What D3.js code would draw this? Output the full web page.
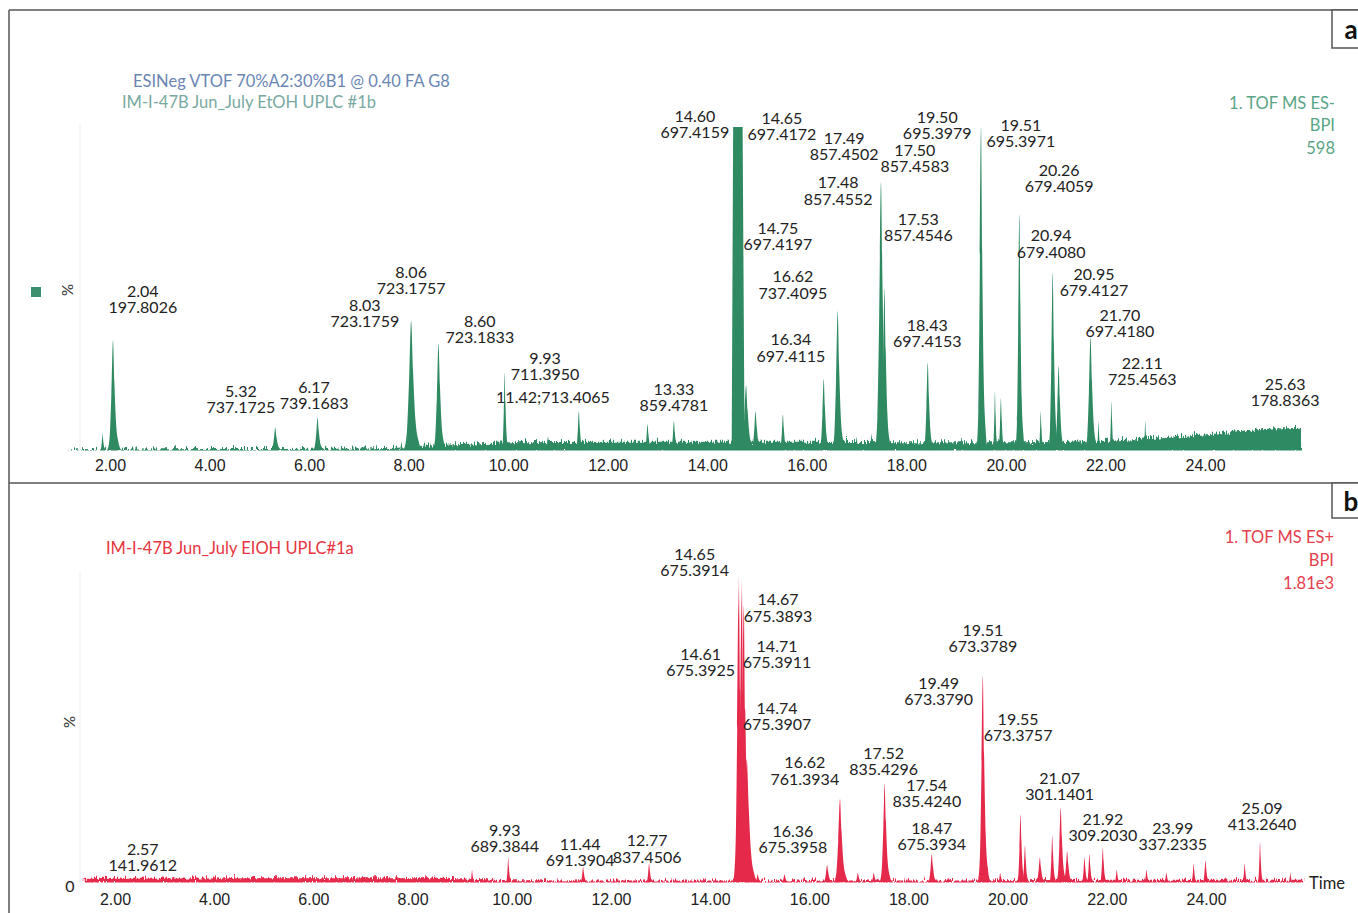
<!DOCTYPE html>
<html lang="en">
<head>
  <meta charset="UTF-8">
  <title>BPI chromatograms</title>
  <script src="https://d3js.org/d3.v7.min.js"></script>
  <style>
    body { margin: 0; background: #fff; }
    svg { display: block; font-family: Lato, "DejaVu Sans", sans-serif; }
    .peak-label { font-size: 16px; fill: #222; text-anchor: middle; }
    .tick text { font-size: 16px; fill: #222; }
  </style>
</head>
<body>
  <svg width="1358" height="913"></svg>

  <script>
    // retention time ticks (min)
    const timeTicks = [2, 4, 6, 8, 10, 12, 14, 16, 18, 20, 22, 24];

    // panel a: ES- BPI, baseline level [time, %]
    const baseA = [[1.1, 0.8], [2, 1], [4, 1.2], [6, 1.3], [8, 1.8], [9, 2.5], [10, 3], [12, 3.2], [14, 3.2],
      [16, 3.2], [18, 3], [20, 3], [22, 3.5], [23, 4.5], [24, 5.5], [25, 7], [25.87, 7.5]];
    // saturated (flat topped) peak [start, end, level %]
    const plateauA = [[14.52, 14.71, 100]];
    // peaks [time, height %, half width at base (min)]
    const peaksA = [[1.85, 5, 0.05], [2.06, 34, 0.11], [5.32, 7, 0.09], [6.17, 10, 0.09], [8.05, 40, 0.15],
      [8.6, 33, 0.11], [9.93, 24, 0.06], [10.8, 4, 0.07], [11.42, 12, 0.07], [12.8, 8, 0.07],
      [13.33, 9, 0.07], [14.78, 20, 0.12], [14.97, 12, 0.09], [15.52, 11, 0.07], [16.34, 22, 0.09],
      [16.62, 43, 0.11], [17.0, 4, 0.05], [17.3, 5, 0.05], [17.49, 83, 0.12], [17.56, 50, 0.1],
      [18.43, 27, 0.09], [19.5, 100, 0.09], [19.78, 18, 0.05], [19.9, 16, 0.06], [20.27, 73, 0.08],
      [20.7, 12, 0.05], [20.94, 55, 0.09], [21.06, 26, 0.09], [21.7, 35, 0.11], [21.86, 9, 0.04],
      [22.12, 15, 0.05], [22.8, 9, 0.04]];
    // annotations [rt, m/z, label time, label level %]
    const labelsA = [["2.04", "197.8026", 2.66, 49.2], ["5.32", "737.1725", 4.63, 18.3],
      ["6.17", "739.1683", 6.1, 19.5], ["8.03", "723.1759", 7.12, 44.9], ["8.06", "723.1757", 8.05, 55.1],
      ["8.60", "723.1833", 9.43, 39.9], ["9.93", "711.3950", 10.74, 28.5], ["11.42;713.4065", "", 10.9, 16.4],
      ["13.33", "859.4781", 13.33, 18.9], ["14.60", "697.4159", 13.75, 103.4], ["14.65", "697.4172", 15.5, 102.8],
      ["17.49", "857.4502", 16.75, 96.6], ["17.50", "857.4583", 18.17, 92.9], ["19.50", "695.3979", 18.62, 103.1],
      ["19.51", "695.3971", 20.3, 100.6], ["17.48", "857.4552", 16.63, 82.7], ["20.26", "679.4059", 21.07, 86.7],
      ["17.53", "857.4546", 18.24, 71.5], ["14.75", "697.4197", 15.42, 68.7], ["20.94", "679.4080", 20.91, 66.3],
      ["16.62", "737.4095", 15.72, 53.6], ["20.95", "679.4127", 21.77, 54.5], ["21.70", "697.4180", 22.29, 41.8],
      ["16.34", "697.4115", 15.68, 34.1], ["18.43", "697.4153", 18.42, 38.7], ["22.11", "725.4563", 22.74, 26.9],
      ["25.63", "178.8363", 25.61, 20.4]];

    // panel b: ES+ BPI
    const baseB = [[1.35, 2], [2, 2], [5, 2.2], [8, 2.2], [9, 1.8], [10, 1.2], [14, 1.1], [18, 1.1],
      [22, 1.4], [25.9, 1.4]];
    const plateauB = [];
    const peaksB = [[9.2, 4, 0.04], [9.93, 8, 0.05], [11.44, 5, 0.06], [12.77, 6, 0.06], [14.58, 100, 0.11],
      [14.64, 98, 0.11], [14.68, 90, 0.12], [14.74, 40, 0.15], [14.96, 2.5, 0.06], [15.5, 2.5, 0.06],
      [16.36, 5.5, 0.08], [16.62, 27, 0.12], [16.98, 3, 0.06], [17.3, 3, 0.06], [17.52, 32, 0.1],
      [18.0, 1.5, 0.05], [18.47, 9, 0.08], [18.8, 1.5, 0.06], [19.5, 67, 0.1], [19.85, 3, 0.05],
      [20.26, 22, 0.07], [20.35, 12, 0.06], [20.65, 8, 0.08], [20.9, 15, 0.06], [21.07, 24, 0.09],
      [21.2, 10, 0.08], [21.55, 8, 0.06], [21.65, 9, 0.06], [21.92, 11, 0.06], [22.2, 4, 0.05],
      [22.8, 4, 0.05], [23.2, 3, 0.05], [23.75, 6, 0.05], [23.99, 7, 0.06], [24.78, 6, 0.05],
      [25.09, 13, 0.05], [25.7, 3, 0.04]];
    const labelsB = [["2.57", "141.9612", 2.56, 10.7], ["9.93", "689.3844", 9.86, 16.9],
      ["11.44", "691.3904", 11.38, 12.4], ["12.77", "837.4506", 12.73, 13.4], ["14.65", "675.3914", 13.69, 106.8],
      ["14.67", "675.3893", 15.37, 91.9], ["14.61", "675.3925", 13.81, 74.3], ["14.71", "675.3911", 15.35, 76.9],
      ["14.74", "675.3907", 15.35, 56.7], ["16.62", "761.3934", 15.91, 38.8], ["17.52", "835.4296", 17.5, 42.0],
      ["17.54", "835.4240", 18.37, 31.6], ["16.36", "675.3958", 15.67, 16.6], ["18.47", "675.3934", 18.47, 17.6],
      ["19.51", "673.3789", 19.5, 82.1], ["19.49", "673.3790", 18.61, 64.8], ["19.55", "673.3757", 20.21, 53.1],
      ["21.07", "301.1401", 21.05, 33.9], ["21.92", "309.2030", 21.92, 20.5], ["23.99", "337.2335", 23.33, 17.6],
      ["25.09", "413.2640", 25.13, 24.1]];

    const svg = d3.select("svg");
    const defs = svg.append("defs");

    // grassy baseline noise
    const f = defs.append("filter").attr("id", "grass")
      .attr("x", "-1%").attr("y", "-40%").attr("width", "102%").attr("height", "180%");
    f.append("feTurbulence").attr("type", "turbulence").attr("baseFrequency", "1.1 0.04")
      .attr("numOctaves", 2).attr("seed", 4).attr("result", "n");
    f.append("feDisplacementMap").attr("in", "SourceGraphic").attr("in2", "n")
      .attr("scale", 9).attr("xChannelSelector", "R").attr("yChannelSelector", "G");

    // peak outline template: [offset in half widths, fraction of height]
    const shape = [[-1, 0], [-0.6, 0.12], [-0.3, 0.5], [0, 1], [0.25, 0.62], [0.6, 0.22], [1, 0.07], [1.5, 0]];

    function panel(cfg) {
      const x = d3.scaleLinear().domain([2, 24]).range(cfg.xr);
      const y = d3.scaleLinear().domain([0, 100]).range(cfg.yr);
      const g = svg.append("g");

      defs.append("clipPath").attr("id", cfg.id + "clip")
        .append("rect").attr("x", 0).attr("y", 0).attr("width", 1358).attr("height", cfg.yr[0] + 0.5);

      // faint y axis
      g.append("line").attr("x1", 80).attr("x2", 80).attr("y1", cfg.yr[1] - 3).attr("y2", cfg.yr[0])
        .attr("stroke", "#eeeeee");

      const area = d3.area().x(d => x(d[0])).y0(y(0)).y1(d => y(d[1])).curve(d3.curveMonotoneX);
      const trace = g.append("g").attr("clip-path", `url(#${cfg.id}clip)`).attr("fill", cfg.fill);

      trace.append("path").datum(cfg.base).attr("d", area).attr("filter", "url(#grass)");
      trace.selectAll("path.plateau").data(cfg.plateau).join("path").attr("class", "plateau")
        .attr("d", p => d3.area().x(d => x(d[0])).y0(y(0)).y1(d => y(d[1]))(
          [[p[0] - 0.03, 0], [p[0], p[2]], [p[1], p[2]], [p[1] + 0.04, 0]]));
      trace.selectAll("path.peak").data(cfg.peaks).join("path").attr("class", "peak")
        .attr("d", p => area(shape.map(([o, k]) => [p[0] + o * p[2], k * p[1]])));

      const ax = g.append("g").attr("transform", `translate(0,${cfg.tickY})`)
        .call(d3.axisBottom(x).tickValues(timeTicks).tickFormat(d3.format(".2f")).tickSize(0).tickPadding(0));
      ax.select(".domain").remove();
      ax.selectAll("text").attr("dy", "0.35em").attr("font-family", null).attr("font-size", null);

      const lab = g.selectAll("text.peak-label").data(cfg.labels).join("text").attr("class", "peak-label")
        .attr("transform", d => `translate(${x(d[2])},${y(d[3])})`);
      lab.append("tspan").attr("x", 0).attr("dy", "0.35em").text(d => d[0]);
      lab.append("tspan").attr("x", 0).attr("dy", 16.5).text(d => d[1]);

      g.append("text").attr("transform", `translate(${cfg.pctX},${cfg.pctY}) rotate(-90)`)
        .attr("text-anchor", "middle").attr("dy", "0.35em").attr("font-size", 15).attr("fill", "#333").text("%");
      return { x, y, g };
    }

    panel({ id: "a", xr: [110, 1205], yr: [450, 127], tickY: 465, pctX: 68, pctY: 290,
      fill: "#2f8a62", base: baseA, plateau: plateauA, peaks: peaksA, labels: labelsA });

    defs.append("linearGradient").attr("id", "redfade").attr("gradientUnits", "userSpaceOnUse")
      .attr("x1", 0).attr("x2", 0).attr("y1", 575).attr("y2", 640)
      .selectAll("stop").data([[0, "#fbd6dd"], [0.7, "#e5294b"]]).join("stop")
      .attr("offset", d => d[0]).attr("stop-color", d => d[1]);

    panel({ id: "b", xr: [115, 1206], yr: [882, 575], tickY: 899, pctX: 70, pctY: 722,
      fill: "url(#redfade)", base: baseB, plateau: plateauB, peaks: peaksB, labels: labelsB });

    // frame
    const frame = svg.append("g").attr("stroke", "#555").attr("stroke-width", 1.5).attr("fill", "none");
    frame.append("line").attr("x1", 9).attr("x2", 1358).attr("y1", 10).attr("y2", 10);
    frame.append("line").attr("x1", 9).attr("x2", 9).attr("y1", 10).attr("y2", 913);
    frame.append("line").attr("x1", 9).attr("x2", 1358).attr("y1", 483).attr("y2", 483);
    frame.append("rect").attr("x", 1332).attr("y", 10).attr("width", 40).attr("height", 38).attr("fill", "#fff");
    frame.append("rect").attr("x", 1332).attr("y", 483).attr("width", 40).attr("height", 35).attr("fill", "#fff");
    svg.append("text").attr("x", 1351).attr("y", 39).attr("text-anchor", "middle")
      .attr("font-size", 26).attr("font-weight", "bold").attr("fill", "#111").text("a");
    svg.append("text").attr("x", 1351).attr("y", 511).attr("text-anchor", "middle")
      .attr("font-size", 26).attr("font-weight", "bold").attr("fill", "#111").text("b");

    // headers
    svg.append("text").attr("x", 133).attr("y", 81).attr("dy", "0.35em").attr("font-size", 16.5)
      .attr("fill", "#6a86b3").text("ESINeg VTOF 70%A2:30%B1 @ 0.40 FA G8");
    svg.append("text").attr("x", 122).attr("y", 102).attr("dy", "0.35em").attr("font-size", 16.5)
      .attr("fill", "#79a9a2").text("IM-I-47B Jun_July EtOH UPLC #1b");
    svg.append("g").attr("fill", "#5aa586").attr("font-size", 16.5).attr("text-anchor", "end")
      .selectAll("text").data(["1. TOF MS ES-", "BPI", "598"]).join("text")
      .attr("x", 1335).attr("y", (d, i) => 103 + i * 22.5).attr("dy", "0.35em").text(d => d);

    svg.append("text").attr("x", 106).attr("y", 548).attr("dy", "0.35em").attr("font-size", 16.5)
      .attr("fill", "#e8343f").text("IM-I-47B Jun_July EIOH UPLC#1a");
    svg.append("g").attr("fill", "#e4404d").attr("font-size", 16.5).attr("text-anchor", "end")
      .selectAll("text").data(["1. TOF MS ES+", "BPI", "1.81e3"]).join("text")
      .attr("x", 1334).attr("y", (d, i) => 537 + i * 23).attr("dy", "0.35em").text(d => d);

    // legend swatch, zero and time label
    svg.append("rect").attr("x", 31).attr("y", 287).attr("width", 10).attr("height", 10).attr("fill", "#3a9170");
    svg.append("text").attr("x", 70).attr("y", 886).attr("dy", "0.35em").attr("text-anchor", "middle")
      .attr("font-size", 16).attr("fill", "#222").text("0");
    svg.append("text").attr("x", 1309).attr("y", 883).attr("dy", "0.35em")
      .attr("font-size", 16.5).attr("fill", "#222").text("Time");
  </script>
</body>
</html>
